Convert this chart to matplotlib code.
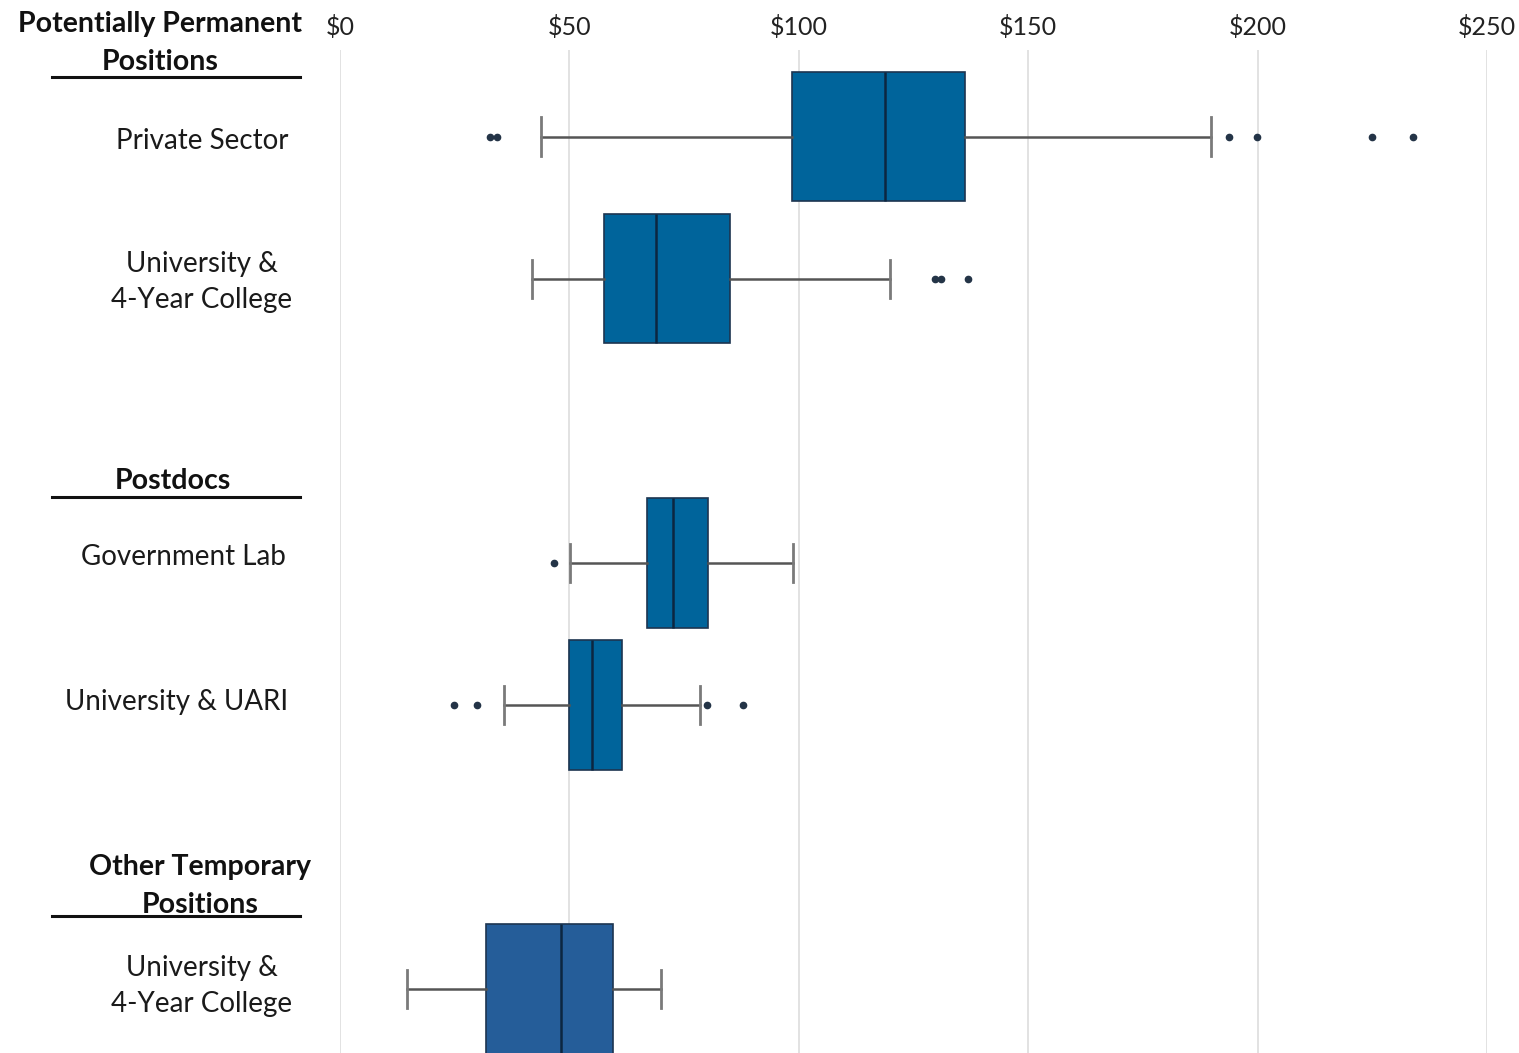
import matplotlib.pyplot as plt

plt.rcParams['font.family'] = ['Lato', 'DejaVu Sans']

# salary distributions (thousands of dollars), one row per position type
labels = ["Private Sector", "University &\n4-Year College", "Government Lab",
          "University & UARI", "University &\n4-Year College"]
rows = [0, 1, 3, 4, 6]
whislo = [43.8, 41.8, 50.1, 35.8, 14.5]
q1 = [98.5, 57.5, 66.9, 49.9, 31.8]
med = [118.8, 68.9, 72.5, 55.0, 48.1]
q3 = [136.2, 85.0, 80.2, 61.5, 59.4]
whishi = [189.8, 119.9, 98.7, 78.5, 70.0]
fliers = [[32.6, 34.3, 193.8, 199.9, 224.9, 233.9],
          [129.6, 130.9, 136.9],
          [46.6],
          [24.8, 29.9, 79.9, 87.9],
          []]
box_colors = ["#00649b", "#00649b", "#00649b", "#00649b", "#255d99"]

groups = ["Potentially Permanent\nPositions", "Postdocs", "Other Temporary\nPositions"]
ticks = [0, 50, 100, 150, 200, 250]
tick_labels = ["$0", "$50", "$100", "$150", "$200", "$250"]

W, H = 1519, 1053
fig = plt.figure(figsize=(W / 100, H / 100), dpi=100)
ax = fig.add_axes([340 / W, 0, (1487 - 340) / W, 1 - 50 / H])

stats = []
for i in range(len(labels)):
    stats.append(dict(whislo=whislo[i], q1=q1[i], med=med[i], q3=q3[i],
                      whishi=whishi[i], fliers=fliers[i]))

bp = ax.bxp(stats, positions=rows, vert=False, widths=0.91, capwidths=0.27,
            patch_artist=True, manage_ticks=False,
            boxprops=dict(edgecolor="#1d3550", linewidth=1.2),
            medianprops=dict(color="#0c2640", linewidth=1.8),
            whiskerprops=dict(color="#555555", linewidth=1.8),
            capprops=dict(color="#7a7a7a", linewidth=2),
            flierprops=dict(marker="o", markersize=4.5, markerfacecolor="#243447",
                            markeredgecolor="#243447"))
for patch, c in zip(bp["boxes"], box_colors):
    patch.set_facecolor(c)

ax.set_xlim(0, 250)
ax.set_ylim(6.45, -0.61)
ax.set_xticks(ticks)
ax.set_xticklabels(tick_labels, fontsize=18, color="#222222")
ax.xaxis.tick_top()
ax.tick_params(axis="x", length=0, pad=8)
ax.set_yticks([])
ax.grid(axis="x", color="#dddddd", linewidth=1.2)
ax.set_axisbelow(True)
for s in ax.spines.values():
    s.set_visible(False)

# category names to the left of their boxes
label_xy = [(202, 141), (202, 282), (183, 557), (177, 702), (202, 986)]
for lab, (x, y) in zip(labels, label_xy):
    fig.text(x / W, 1 - y / H, lab, ha="center", va="center",
             fontsize=20, color="#1a1a1a", linespacing=1.45)

# group headings with underline
head_xy = [(160, 43), (173, 481), (200, 886)]
rule_y = [77, 497, 916]
for g, (x, y), ry in zip(groups, head_xy, rule_y):
    fig.text(x / W, 1 - y / H, g, ha="center", va="center", fontsize=20.5,
             fontweight="bold", color="#111111", linespacing=1.55)
    fig.add_artist(plt.Line2D([52 / W, 300 / W], [1 - ry / H, 1 - ry / H],
                              color="#111111", linewidth=2.2))

fig.savefig("out.png", dpi=100)
